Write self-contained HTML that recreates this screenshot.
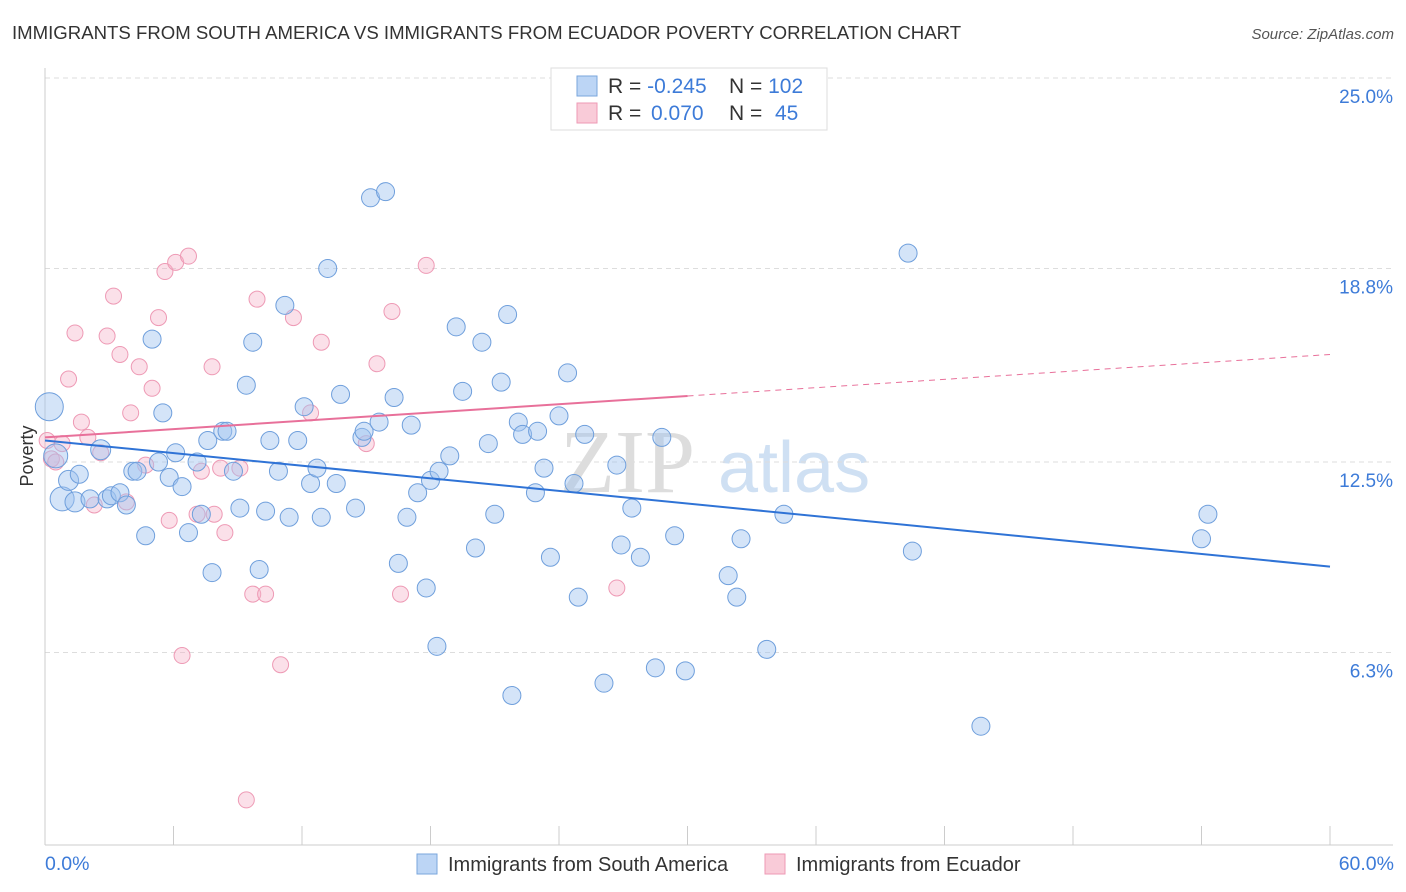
<!DOCTYPE html>
<html><head><meta charset="utf-8"><style>
body{margin:0;background:#fff;font-family:"Liberation Sans",sans-serif;}
#wrap{position:relative;width:1406px;height:892px;overflow:hidden;}
</style></head><body>
<div id="wrap">
<svg id="svg" width="1406" height="892" xmlns="http://www.w3.org/2000/svg">
<text x="12" y="39" font-size="18.6" fill="#333">IMMIGRANTS FROM SOUTH AMERICA VS IMMIGRANTS FROM ECUADOR POVERTY CORRELATION CHART</text>
<text x="1394" y="39" font-size="15" fill="#555" font-style="italic" text-anchor="end">Source: ZipAtlas.com</text>
<text x="560" y="492" font-size="90" fill="#ddd" font-family="Liberation Serif">ZIP</text>
<text x="718" y="492" font-size="72" fill="#cfe0f3">atlas</text>
<g id="grid"></g><g id="axes"></g><g id="marks"></g><g id="trends"></g>
<text transform="translate(33,456) rotate(-90)" font-size="18" fill="#333" text-anchor="middle">Poverty</text>
<text x="45" y="870" font-size="19.5" fill="#3d7bd8">0.0%</text>
<text x="1394" y="870" font-size="19.5" fill="#3d7bd8" text-anchor="end">60.0%</text>
<g>
<rect x="417" y="854" width="20" height="20" fill="#bcd5f5" stroke="#7aa6dc"/>
<text x="448" y="871" font-size="20" fill="#333">Immigrants from South America</text>
<rect x="765" y="854" width="20" height="20" fill="#f9cbd8" stroke="#ee9ab5"/>
<text x="796" y="871" font-size="20" fill="#333">Immigrants from Ecuador</text>
</g>
<g>
<rect x="551" y="68" width="276" height="62" fill="#fff" stroke="#ddd"/>
<rect x="577" y="76" width="20" height="20" fill="#bcd5f5" stroke="#7aa6dc"/>
<rect x="577" y="103" width="20" height="20" fill="#f9cbd8" stroke="#ee9ab5"/>
<text x="608" y="93" font-size="21" fill="#333">R = <tspan fill="#3d7bd8">-0.245</tspan><tspan x="729">N = </tspan><tspan fill="#3d7bd8">102</tspan></text>
<text x="608" y="120" font-size="21" fill="#333">R = <tspan x="651" fill="#3d7bd8">0.070</tspan><tspan x="729">N = </tspan><tspan x="775" fill="#3d7bd8">45</tspan></text>
</g>
</svg>
</div>
<script>
const yTicks=[25.0,18.8,12.5,6.3];
const yTickLabels=["25.0%","18.8%","12.5%","6.3%"];
const xTicks=[0,6,12,18,24,30,36,42,48,54,60];
const blueX=[0.2,0.5,0.8,1.1,1.4,1.6,2.1,2.6,2.9,3.1,3.5,3.8,4.1,4.3,4.7,5.0,5.3,5.5,5.8,6.1,6.4,6.7,7.1,7.3,7.6,7.8,8.3,8.5,8.8,9.1,9.4,9.7,10.0,10.3,10.5,10.9,11.2,11.4,11.8,12.1,12.4,12.7,12.9,13.2,13.6,13.8,14.5,14.8,14.9,15.2,15.6,15.9,16.3,16.5,16.9,17.1,17.4,17.8,18.0,18.3,18.4,18.9,19.2,19.5,20.1,20.4,20.7,21.0,21.3,21.6,21.8,22.1,22.3,22.9,23.0,23.3,23.6,24.0,24.4,24.7,24.9,25.2,26.1,26.7,26.9,27.4,27.8,28.5,28.8,29.4,29.9,31.9,32.3,32.5,33.7,34.5,40.3,40.5,43.7,54.0,54.3];
const blueY=[14.3,12.7,11.3,11.9,11.2,12.1,11.3,12.9,11.3,11.4,11.5,11.1,12.2,12.2,10.1,16.5,12.5,14.1,12.0,12.8,11.7,10.2,12.5,10.8,13.2,8.9,13.5,13.5,12.2,11.0,15.0,16.4,9.0,10.9,13.2,12.2,17.6,10.7,13.2,14.3,11.8,12.3,10.7,18.8,11.8,14.7,11.0,13.3,13.5,21.1,13.8,21.3,14.6,9.2,10.7,13.7,11.5,8.4,11.9,6.5,12.2,12.7,16.9,14.8,9.7,16.4,13.1,10.8,15.1,17.3,4.9,13.8,13.4,11.5,13.5,12.3,9.4,14.0,15.4,11.8,8.1,13.4,5.3,12.4,9.8,11.0,9.4,5.8,13.3,10.1,5.7,8.8,8.1,10.0,6.4,10.8,19.3,9.6,3.9,10.0,10.8];
const blueR=[14,12,12,10,10,9,9,10,9,9,9,9,9,9,9,9,9,9,9,9,9,9,9,9,9,9,9,9,9,9,9,9,9,9,9,9,9,9,9,9,9,9,9,9,9,9,9,9,9,9,9,9,9,9,9,9,9,9,9,9,9,9,9,9,9,9,9,9,9,9,9,9,9,9,9,9,9,9,9,9,9,9,9,9,9,9,9,9,9,9,9,9,9,9,9,9,9,9,9,9,9];
const pinkX=[0.1,0.3,0.5,0.8,1.1,1.4,1.7,2.0,2.3,2.6,2.9,3.2,3.5,3.8,4.0,4.4,4.7,5.0,5.3,5.6,5.8,6.1,6.4,6.7,7.1,7.3,7.8,7.9,8.2,8.4,9.1,9.4,9.7,9.9,10.3,11.0,11.6,12.4,12.9,15.0,15.5,16.2,16.6,17.8,26.7];
const pinkY=[13.2,12.6,12.5,13.1,15.2,16.7,13.8,13.3,11.1,12.8,16.6,17.9,16.0,11.2,14.1,15.6,12.4,14.9,17.2,18.7,10.6,19.0,6.2,19.2,10.8,12.2,15.6,10.8,12.3,10.2,12.3,1.5,8.2,17.8,8.2,5.9,17.2,14.1,16.4,13.1,15.7,17.4,8.2,18.9,8.4];
const blueTrend=[13.2,-0.0684];
const pinkTrend=[13.3,0.045];
const NS="http://www.w3.org/2000/svg";
function xs(v){return 45+v*(1330-45)/60;}
function ys(v){return 846-v*30.72;}
function mk(tag,attrs,parent){const e=document.createElementNS(NS,tag);for(const k in attrs)e.setAttribute(k,attrs[k]);parent.appendChild(e);return e;}
const grid=document.getElementById('grid'),axes=document.getElementById('axes'),marks=document.getElementById('marks'),trends=document.getElementById('trends');
yTicks.forEach((t,i)=>{
 const l=mk('line',{x1:45,x2:1393,y1:ys(t),y2:ys(t),stroke:'#ddd','stroke-dasharray':'5,4'},grid);
 
 
 const tx=mk('text',{x:1393,y:ys(t)+25,'font-size':19,fill:'#3d7bd8','text-anchor':'end'},grid);
 tx.textContent=yTickLabels[i];
 
 
});
const ax=mk('line',{x1:45,x2:1393,y1:845,y2:845,stroke:'#ccc'},axes);


const ay=mk('line',{x1:45,x2:45,y1:68,y2:845,stroke:'#ccc'},axes);


xTicks.forEach(t=>{
 const l=mk('line',{x1:xs(t),x2:xs(t),y1:826,y2:845,stroke:'#ccc'},axes);
 
 
});
pinkX.forEach((x,i)=>{
 const c=mk('circle',{cx:xs(x),cy:ys(pinkY[i]),r:8,fill:'rgba(246,178,200,0.4)',stroke:'#ee9ab5','stroke-width':1},marks);
 
 
});
blueX.forEach((x,i)=>{
 const c=mk('circle',{cx:xs(x),cy:ys(blueY[i]),r:blueR[i]||9,fill:'rgba(160,196,240,0.45)',stroke:'#6f9fdc','stroke-width':1},marks);
 
 
});
const bt=mk('line',{x1:xs(0),y1:ys(blueTrend[0]),x2:xs(60),y2:ys(blueTrend[0]+blueTrend[1]*60),stroke:'#2f73d6','stroke-width':2},trends);


const pt=mk('line',{x1:xs(0),y1:ys(pinkTrend[0]),x2:xs(30),y2:ys(pinkTrend[0]+pinkTrend[1]*30),stroke:'#e8709a','stroke-width':2},trends);


const pd=mk('line',{x1:xs(30),y1:ys(pinkTrend[0]+pinkTrend[1]*30),x2:xs(60),y2:ys(pinkTrend[0]+pinkTrend[1]*60),stroke:'#e8709a','stroke-width':1,'stroke-dasharray':'6,5'},trends);


</script>
</body></html>
